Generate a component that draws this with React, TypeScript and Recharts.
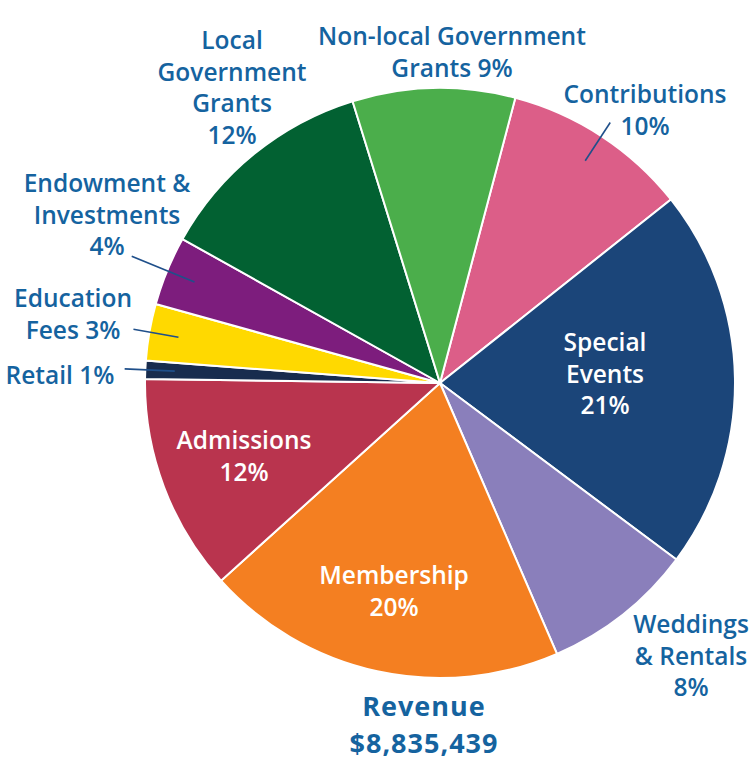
import React from "react";
import { PieChart, Pie, Cell } from "recharts";

const TEXT_BLUE = "#15639f";
const LINE_BLUE = "#1f4f8a";
const FONT = "'Open Sans', Lato, sans-serif";

const categories = [
  "Contributions",
  "Special Events",
  "Weddings & Rentals",
  "Membership",
  "Admissions",
  "Retail",
  "Education Fees",
  "Endowment & Investments",
  "Local Government Grants",
  "Non-local Government Grants",
];
const shares = [10.2, 20.9, 8.3, 19.8, 11.9, 1.0, 3.1, 3.8, 12.1, 8.9];
const percentLabels = ["10%", "21%", "8%", "20%", "12%", "1%", "3%", "4%", "12%", "9%"];
const colors = [
  "#dc5e88",
  "#1b4579",
  "#8a7fbb",
  "#f47f21",
  "#b9344e",
  "#182c4e",
  "#ffd900",
  "#7d1d7d",
  "#026132",
  "#4bae4b",
];

// how each label is laid out: text lines, anchor point of the first baseline,
// whether it sits inside the slice, and optional radial leader line (outer radius factor)
const labelLayout = [
  { lines: ["Contributions", "10%"], x: 645, y: 103, inside: false, leader: 1.055 },
  { lines: ["Special", "Events", "21%"], x: 605, y: 351, inside: true },
  { lines: ["Weddings", "& Rentals", "8%"], x: 691, y: 633, inside: false },
  { lines: ["Membership", "20%"], x: 394, y: 584, inside: true },
  { lines: ["Admissions", "12%"], x: 244, y: 449, inside: true },
  { lines: ["Retail 1%"], x: 60, y: 384, inside: false, leader: 1.07 },
  { lines: ["Education", "Fees 3%"], x: 73, y: 307, inside: false, leader: 1.055 },
  { lines: ["Endowment &", "Investments", "4%"], x: 107, y: 192, inside: false, leader: 1.13 },
  { lines: ["Local", "Government", "Grants", "12%"], x: 232, y: 49, inside: false },
  { lines: ["Non-local Government", "Grants 9%"], x: 452, y: 45, inside: false },
];

const titleLines = ["Revenue", "$8,835,439"];

const data = categories.map((name, i) => ({ name, value: shares[i], pct: percentLabels[i] }));

const RAD = Math.PI / 180;

function renderLabel(props: any) {
  const { cx, cy, midAngle, outerRadius, index } = props;
  const layout = labelLayout[index];
  if (!layout) return null;
  const lineH = 31.5;
  let leader = null;
  if (layout.leader) {
    const rIn = outerRadius * 0.9;
    const rOut = outerRadius * layout.leader;
    const cos = Math.cos(-midAngle * RAD);
    const sin = Math.sin(-midAngle * RAD);
    leader = (
      <line
        x1={cx + rOut * cos}
        y1={cy + rOut * sin}
        x2={cx + rIn * cos}
        y2={cy + rIn * sin}
        stroke={LINE_BLUE}
        strokeWidth={1.6}
      />
    );
  }
  return (
    <g key={`lbl-${index}`}>
      {leader}
      <text
        x={layout.x}
        y={layout.y}
        textAnchor="middle"
        fill={layout.inside ? "#ffffff" : TEXT_BLUE}
        fontFamily={FONT}
        fontWeight={600}
        fontSize={24.5}
      >
        {layout.lines.map((ln, k) => (
          <tspan key={k} x={layout.x} y={layout.y + k * lineH}>
            {ln}
          </tspan>
        ))}
      </text>
    </g>
  );
}

export default function App() {
  return (
    <div style={{ position: "absolute", left: 0, top: 0, width: 753, height: 761, background: "#fff" }}>
      <PieChart width={753} height={761} margin={{ top: 0, right: 0, bottom: 0, left: 0 }}>
        <Pie
          data={data}
          dataKey="value"
          nameKey="name"
          cx={440}
          cy={383}
          outerRadius={295}
          startAngle={75.2}
          endAngle={-284.8}
          stroke="#ffffff"
          strokeWidth={2}
          label={renderLabel}
          labelLine={false}
          isAnimationActive={false}
        >
          {data.map((d, i) => (
            <Cell key={d.name} fill={colors[i]} />
          ))}
        </Pie>
      </PieChart>
      <div
        style={{
          position: "absolute",
          left: 274,
          width: 300,
          top: 687,
          textAlign: "center",
          color: TEXT_BLUE,
          fontFamily: FONT,
          fontWeight: 700,
          fontSize: 27,
          letterSpacing: 1,
          lineHeight: "37px",
        }}
      >
        {titleLines.map((t) => (
          <div key={t}>{t}</div>
        ))}
      </div>
    </div>
  );
}
